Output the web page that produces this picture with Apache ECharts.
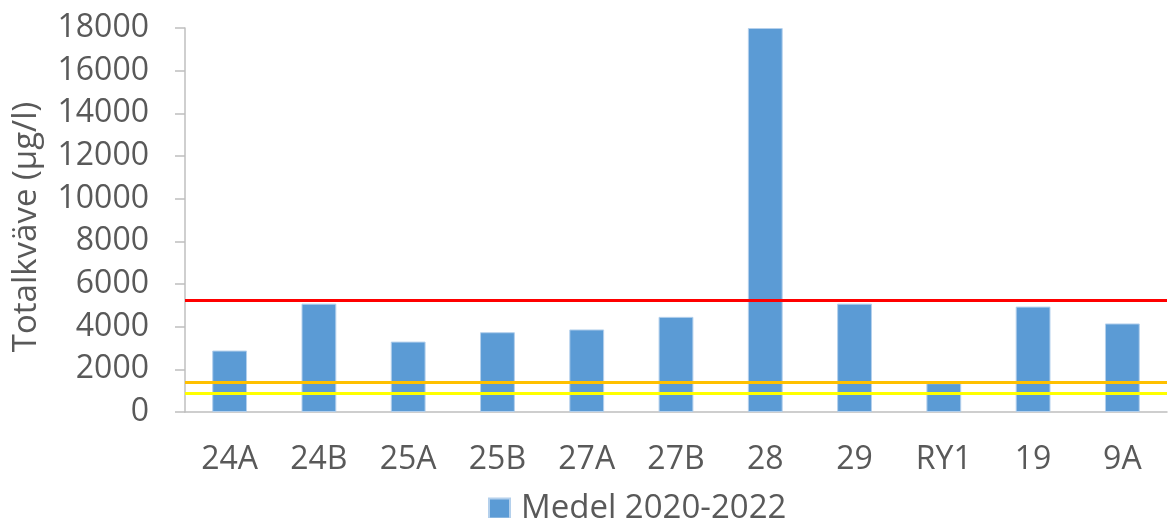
<!DOCTYPE html>
<html>
<head>
<meta charset="utf-8">
<script src="https://cdn.jsdelivr.net/npm/echarts@6/dist/echarts.min.js"></script>
<style>
  html, body { margin: 0; padding: 0; background: #fff; }
  #chart { width: 1170px; height: 518px; }
</style>
</head>
<body>
<div id="chart"></div>
<script>
// Stations along the x-axis
const stations = ['24A', '24B', '25A', '25B', '27A', '27B', '28', '29', 'RY1', '19', '9A'];
// Mean total nitrogen 2020-2022 (µg/l) per station
const meanValues = [2880, 5080, 3300, 3740, 3870, 4460, 18000, 5080, 1350, 4940, 4150];
// Reference levels drawn as horizontal lines (µg/l)
const levelValues = [5260, 1390, 900];
const levelColors = ['#ff0000', '#ffc000', '#ffff00'];
// Y-axis ticks
const yMin = 0, yMax = 18000, yStep = 2000;

const fontFamily = 'Open Sans';
const fontSize = 32;
const textColor = '#595959';
const axisColor = '#bfbfbf';

const chart = echarts.init(document.getElementById('chart'), null, { renderer: 'canvas' });

chart.setOption({
  animation: false,
  backgroundColor: '#ffffff',
  grid: { left: 185, right: 3, top: 28, bottom: 106, containLabel: false, outerBoundsMode: 'none' },
  legend: {
    data: ['Medel 2020-2022'],
    top: 492,
    left: 488,
    icon: 'rect',
    itemWidth: 21,
    itemHeight: 20,
    itemGap: 10,
    padding: 0,
    textStyle: { fontFamily, fontSize: 33, color: textColor, padding: [0, 0, 0, 6] }
  },
  xAxis: {
    type: 'category',
    data: stations,
    axisLine: { lineStyle: { color: axisColor, width: 1.5 } },
    axisTick: { show: false },
    axisLabel: { fontFamily, fontSize, color: textColor, margin: 32 },
    splitLine: { show: false }
  },
  yAxis: {
    type: 'value',
    min: yMin,
    max: yMax,
    interval: yStep,
    name: 'Totalkväve (µg/l)',
    nameLocation: 'middle',
    nameGap: 142,
    nameRotate: 90,
    nameTextStyle: { fontFamily, fontSize: 33, color: textColor, padding: [0, 14, 0, 0] },
    axisLine: { show: true, lineStyle: { color: axisColor, width: 1.5 } },
    axisTick: { show: true, length: 10, inside: false, lineStyle: { color: axisColor, width: 1.5 } },
    axisLabel: { fontFamily, fontSize, color: textColor, margin: 36, formatter: (v) => String(v) },
    splitLine: { show: false }
  },
  series: [
    {
      name: 'Medel 2020-2022',
      type: 'bar',
      data: meanValues,
      barWidth: '39%',
      itemStyle: { color: '#5b9bd5', borderColor: '#b4d0ec', borderWidth: 1 },
      z: 2,
      markLine: {
        silent: true,
        symbol: ['none', 'none'],
        label: { show: false },
        z: 5,
        data: levelValues.map((v, i) => ({
          yAxis: v,
          lineStyle: { color: levelColors[i], width: 3, type: 'solid' }
        }))
      }
    }
  ]
});
</script>
</body>
</html>
